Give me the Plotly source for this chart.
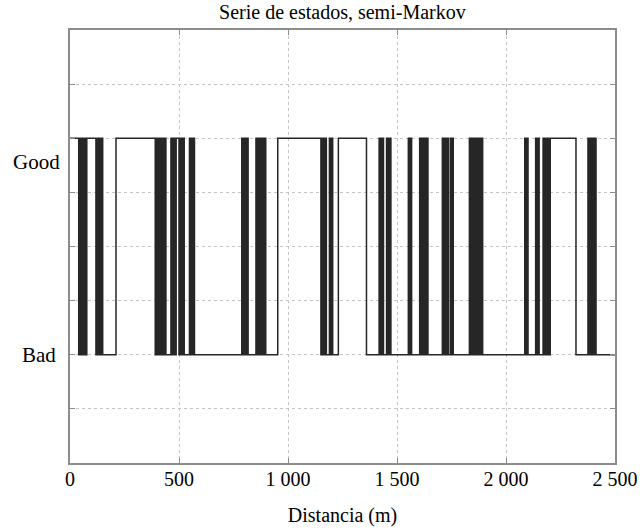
import plotly.graph_objects as go

# Change points of the state series (state holds until next point)
distancia_m = [0,
    40, 44, 48, 52, 57, 61, 65, 69, 73, 77,
    119, 123, 127, 131, 135, 139, 143, 147, 150,
    211,
    391, 395, 399, 403, 407, 411, 415, 419, 423, 427, 431, 435, 440,
    463, 467, 471, 475, 479, 483, 487,
    500, 504, 508, 512, 516, 520, 524,
    548, 553, 558, 563, 567, 571,
    788, 792, 796, 800, 804, 808, 812, 817,
    853, 857, 861, 865, 869, 873, 877, 881, 885, 889, 894, 898,
    953,
    1151, 1155, 1160, 1164, 1168, 1172, 1176,
    1190, 1196, 1200, 1205,
    1231, 1360,
    1418, 1422, 1426, 1430, 1434, 1438,
    1452, 1456, 1460, 1464, 1468, 1472,
    1552, 1558, 1562, 1567,
    1604, 1608, 1612, 1616, 1620, 1624, 1630, 1634, 1638, 1642,
    1708, 1712, 1716, 1720, 1724, 1728, 1732, 1736, 1745, 1750, 1754, 1758,
    1832, 1836, 1840, 1844, 1848, 1852, 1856, 1860, 1864, 1868, 1872, 1876, 1880, 1884, 1888, 1893,
    2086, 2092, 2096, 2101,
    2136, 2142, 2146, 2152,
    2170, 2174, 2178, 2182, 2186, 2190, 2194, 2198, 2203,
    2321,
    2376, 2380, 2384, 2388, 2392, 2396, 2400, 2404, 2408, 2413,
    2500]

estado = [1,
    0, 1, 0, 1, 0, 1, 0, 1, 0, 1,
    0, 1, 0, 1, 0, 1, 0, 1, 0,
    1,
    0, 1, 0, 1, 0, 1, 0, 1, 0, 1, 0, 1, 0,
    1, 0, 1, 0, 1, 0, 1,
    0, 1, 0, 1, 0, 1, 0,
    1, 0, 1, 0, 1, 0,
    1, 0, 1, 0, 1, 0, 1, 0,
    1, 0, 1, 0, 1, 0, 1, 0, 1, 0, 1, 0,
    1,
    0, 1, 0, 1, 0, 1, 0,
    1, 0, 1, 0,
    1, 0,
    1, 0, 1, 0, 1, 0,
    1, 0, 1, 0, 1, 0,
    1, 0, 1, 0,
    1, 0, 1, 0, 1, 0, 1, 0, 1, 0,
    1, 0, 1, 0, 1, 0, 1, 0, 1, 0, 1, 0,
    1, 0, 1, 0, 1, 0, 1, 0, 1, 0, 1, 0, 1, 0, 1, 0,
    1, 0, 1, 0,
    1, 0, 1, 0,
    1, 0, 1, 0, 1, 0, 1, 0, 1,
    0,
    1, 0, 1, 0, 1, 0, 1, 0, 1, 0,
    0]

x_ticks = [0, 500, 1000, 1500, 2000, 2500]
x_tick_labels = ["0", "500", "1 000", "1 500", "2 000", "2 500"]
y_ticks = [-0.25, 0, 0.25, 0.5, 0.75, 1, 1.25]
state_labels = ["Good", "Bad"]

FONT = "Liberation Serif, Times New Roman, serif"

fig = go.Figure()
fig.add_trace(go.Scatter(
    x=distancia_m, y=estado, mode="lines", line_shape="hv",
    line=dict(color="#262626", width=1.5), showlegend=False, hoverinfo="skip"))

fig.update_layout(
    width=640, height=532,
    margin=dict(l=70, r=25, t=30, b=69, autoexpand=False),
    paper_bgcolor="white", plot_bgcolor="white",
    font=dict(family=FONT, size=20, color="black"),
    title=dict(text="Serie de estados, semi-Markov", x=0.535, xanchor="center",
               xref="container", yref="container",
               y=0.977, yanchor="middle", font=dict(family=FONT, size=20, color="black")),
    xaxis=dict(range=[0, 2500], tickvals=x_ticks, ticktext=x_tick_labels,
               automargin=False,
               showgrid=True, gridcolor="#c4c4c4", griddash="dot", gridwidth=1,
               zeroline=False, showline=True, linecolor="#8c8c8c", linewidth=1.5,
               mirror="ticks", ticks="inside", ticklen=5, tickcolor="#8c8c8c",
               tickfont=dict(family=FONT, size=20), ticklabelstandoff=-3,
               title=dict(text="Distancia (m)", font=dict(family=FONT, size=20), standoff=19)),
    yaxis=dict(range=[-0.5, 1.5], tickvals=y_ticks, showticklabels=False,
               automargin=False,
               showgrid=True, gridcolor="#c4c4c4", griddash="dot", gridwidth=1,
               zeroline=False, showline=True, linecolor="#8c8c8c", linewidth=1.5,
               mirror="ticks", ticks="inside", ticklen=5, tickcolor="#8c8c8c"),
)

fig.add_annotation(text=state_labels[0], xref="paper", yref="y", x=-0.062, y=0.89,
                   xanchor="center", yanchor="middle", showarrow=False,
                   font=dict(family=FONT, size=21, color="black"))
fig.add_annotation(text=state_labels[1], xref="paper", yref="y", x=-0.057, y=0.0,
                   xanchor="center", yanchor="middle", showarrow=False,
                   font=dict(family=FONT, size=21, color="black"))

fig.write_html("out.html", config={"displayModeBar": False},
               post_script="document.body.style.margin='0';document.body.style.overflow='hidden';")
